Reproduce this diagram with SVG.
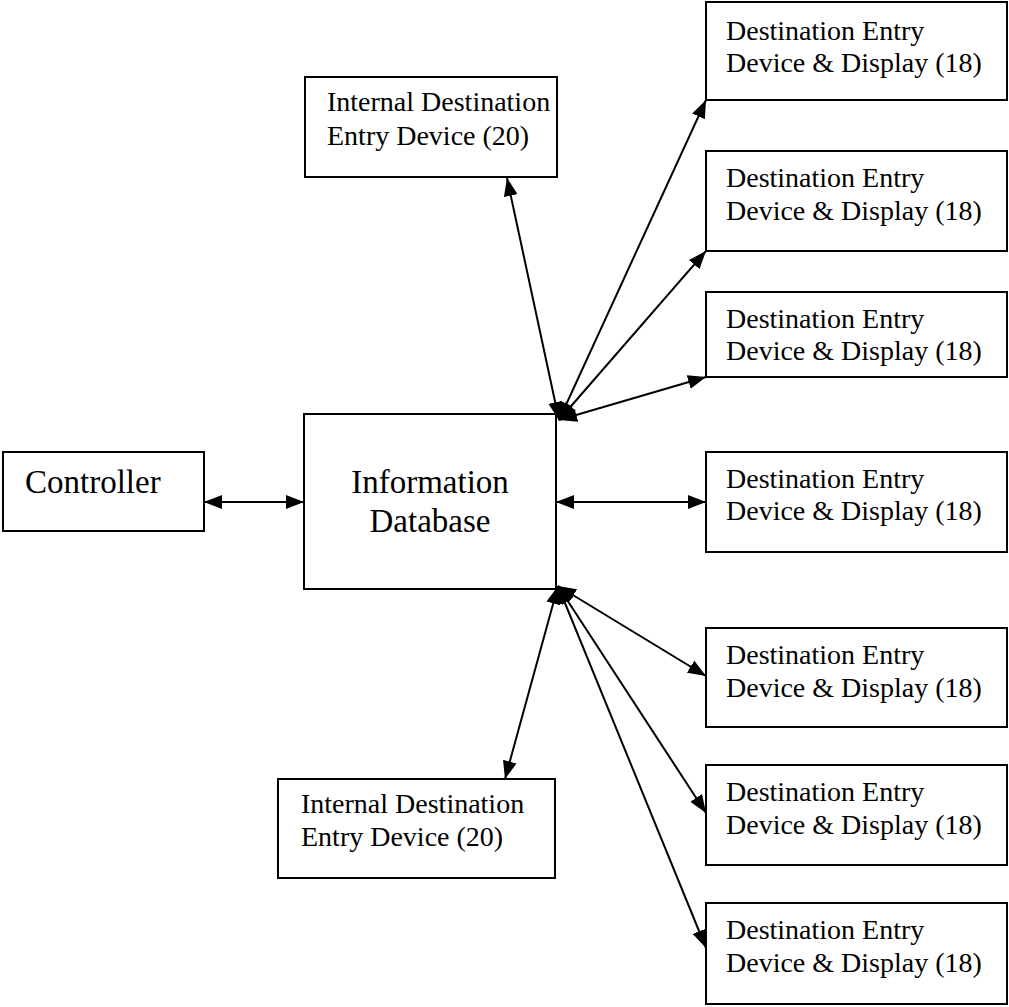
<svg xmlns="http://www.w3.org/2000/svg" width="1009" height="1007" viewBox="0 0 1009 1007">
<style>
.box{fill:#fff;stroke:#000;stroke-width:2}
.t{font-family:"Liberation Serif","Times New Roman",serif;font-size:28px;fill:#000}
.tl{font-family:"Liberation Serif","Times New Roman",serif;font-size:33px;fill:#000}
.c line{stroke:#000;stroke-width:2;marker-start:url(#ah);marker-end:url(#ah)}
</style>
<defs>
<marker id="ah" viewBox="0 0 18 14" markerWidth="18" markerHeight="14" refX="18" refY="7" orient="auto-start-reverse" markerUnits="userSpaceOnUse">
<path d="M0,0 L18,7 L0,14 z" fill="#000"/>
</marker>
</defs>
<rect width="1009" height="1007" fill="#fff"/>
<g class="c" id="connectors">
<line x1="204" y1="502" x2="304" y2="502"/>
<line x1="556" y1="502" x2="706" y2="502"/>
<line x1="559" y1="420" x2="507" y2="178"/>
<line x1="559" y1="420" x2="706" y2="100"/>
<line x1="559" y1="420" x2="706" y2="251"/>
<line x1="559" y1="420" x2="706" y2="377"/>
<line x1="558" y1="586" x2="505" y2="779"/>
<line x1="558" y1="586" x2="706" y2="676"/>
<line x1="558" y1="586" x2="706" y2="813"/>
<line x1="558" y1="586" x2="706" y2="948"/>
</g>
<g id="controller">
<rect class="box" x="3" y="452" width="201" height="79"/>
<text class="tl" x="25" y="493">Controller</text>
</g>
<g id="database">
<rect class="box" x="304" y="414" width="252" height="175"/>
<text class="tl" x="430" y="493" text-anchor="middle">Information</text>
<text class="tl" x="430" y="532" text-anchor="middle">Database</text>
</g>
<g id="internal1">
<rect class="box" x="305" y="77" width="252" height="100"/>
<text class="t" x="327" y="111">Internal Destination</text>
<text class="t" x="327" y="145">Entry Device (20)</text>
</g>
<g id="internal2">
<rect class="box" x="278" y="779" width="277" height="99"/>
<text class="t" x="301" y="813">Internal Destination</text>
<text class="t" x="301" y="846">Entry Device (20)</text>
</g>
<g id="dest1">
<rect class="box" x="706" y="2" width="301" height="98"/>
<text class="t" x="726" y="40">Destination Entry</text>
<text class="t" x="726" y="72">Device &amp; Display (18)</text>
</g>
<g id="dest2">
<rect class="box" x="706" y="151" width="301" height="100"/>
<text class="t" x="726" y="187">Destination Entry</text>
<text class="t" x="726" y="220">Device &amp; Display (18)</text>
</g>
<g id="dest3">
<rect class="box" x="706" y="292" width="301" height="85"/>
<text class="t" x="726" y="328">Destination Entry</text>
<text class="t" x="726" y="360">Device &amp; Display (18)</text>
</g>
<g id="dest4">
<rect class="box" x="706" y="452" width="301" height="100"/>
<text class="t" x="726" y="488">Destination Entry</text>
<text class="t" x="726" y="520">Device &amp; Display (18)</text>
</g>
<g id="dest5">
<rect class="box" x="706" y="628" width="301" height="99"/>
<text class="t" x="726" y="664">Destination Entry</text>
<text class="t" x="726" y="697">Device &amp; Display (18)</text>
</g>
<g id="dest6">
<rect class="box" x="706" y="765" width="301" height="100"/>
<text class="t" x="726" y="801">Destination Entry</text>
<text class="t" x="726" y="834">Device &amp; Display (18)</text>
</g>
<g id="dest7">
<rect class="box" x="706" y="903" width="301" height="101"/>
<text class="t" x="726" y="939">Destination Entry</text>
<text class="t" x="726" y="972">Device &amp; Display (18)</text>
</g>
</svg>
